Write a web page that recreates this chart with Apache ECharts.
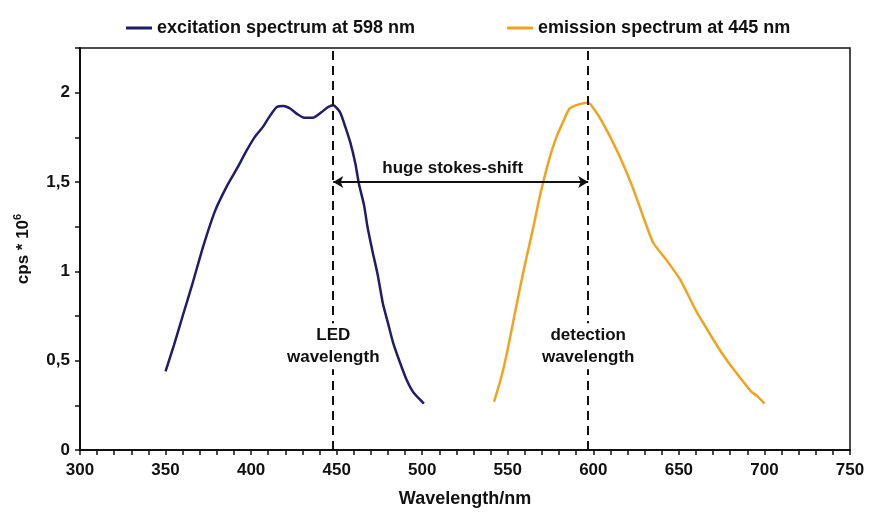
<!DOCTYPE html>
<html>
<head>
<meta charset="utf-8">
<script src="https://cdn.jsdelivr.net/npm/echarts@6/dist/echarts.min.js"></script>
<style>
  html, body { margin: 0; padding: 0; background: #fff; }
  #chart { width: 892px; height: 526px; }
</style>
</head>
<body>
<div id="chart"></div>
<script>
// wavelength (nm) / cps * 10^6
var excitationNm = [350, 355, 360, 366, 372, 379, 386, 392, 397, 402, 407, 411, 415, 419, 423, 427, 431, 436, 441, 445, 448, 452, 455, 458, 461, 463, 466, 468, 471, 474, 477, 480, 483, 487, 491, 495, 501];
var excitationVal = [0.44, 0.59, 0.75, 0.94, 1.14, 1.34, 1.48, 1.58, 1.67, 1.75, 1.81, 1.87, 1.92, 1.925, 1.91, 1.88, 1.86, 1.86, 1.89, 1.92, 1.93, 1.89, 1.81, 1.72, 1.60, 1.49, 1.37, 1.25, 1.11, 0.98, 0.82, 0.71, 0.60, 0.49, 0.39, 0.32, 0.26];

var emissionNm = [542, 546, 549, 553, 557, 561, 565, 568, 571, 574, 578, 582, 586, 590, 594, 597, 601, 605, 610, 616, 623, 629, 635, 643, 651, 660, 670, 676, 682, 687, 692, 696, 700];
var emissionVal = [0.27, 0.40, 0.52, 0.71, 0.90, 1.08, 1.25, 1.39, 1.51, 1.62, 1.74, 1.83, 1.91, 1.93, 1.94, 1.945, 1.90, 1.84, 1.75, 1.63, 1.47, 1.31, 1.16, 1.06, 0.95, 0.78, 0.62, 0.53, 0.45, 0.39, 0.33, 0.30, 0.26];

var ledNm = 448;
var detectionNm = 597;
var arrowLevel = 1.5;

var xTickLabels = [300, 350, 400, 450, 500, 550, 600, 650, 700, 750];
var yTickLabels = [0, 0.5, 1, 1.5, 2];

function pairs(xs, ys) {
  var out = [];
  for (var i = 0; i < xs.length; i++) out.push([xs[i], ys[i]]);
  return out;
}

var font = 'Liberation Sans, Arial, sans-serif';
var textBold = { fontFamily: font, fontWeight: 'bold', fontSize: 17, color: '#111' };

var myChart = echarts.init(document.getElementById('chart'));

var option = {
  animation: false,
  backgroundColor: '#fff',
  legend: {
    top: 14,
    left: 121,
    itemGap: 92,
    itemWidth: 26,
    itemHeight: 3,
    icon: 'rect',
    textStyle: { fontFamily: font, fontWeight: 'bold', fontSize: 18, color: '#111' },
    data: ['excitation spectrum at 598 nm', 'emission spectrum at 445 nm']
  },
  grid: {
    left: 80, right: 42, top: 48, bottom: 76,
    show: true,
    borderColor: '#111',
    borderWidth: 1.5
  },
  xAxis: {
    type: 'value',
    min: 300, max: 750, interval: 10,
    name: 'Wavelength/nm',
    nameLocation: 'middle',
    nameGap: 40,
    nameTextStyle: { fontFamily: font, fontWeight: 'bold', fontSize: 18, color: '#111' },
    axisLine: { onZero: false, lineStyle: { color: '#111', width: 2 } },
    axisTick: { show: true, length: 5, lineStyle: { color: '#111', width: 1.5 } },
    axisLabel: Object.assign({
      margin: 12,
      formatter: function (v) { return xTickLabels.indexOf(v) >= 0 ? String(v) : ''; }
    }, textBold),
    splitLine: { show: false }
  },
  yAxis: {
    type: 'value',
    min: 0, max: 2.25, interval: 0.25,
    name: 'cps * 10{sup|6}',
    nameLocation: 'middle',
    nameGap: 46,
    nameRotate: 90,
    nameTextStyle: {
      fontFamily: font, fontWeight: 'bold', fontSize: 17, color: '#111', lineHeight: 22,
      rich: {
        sup: { fontFamily: font, fontWeight: 'bold', fontSize: 11, color: '#111', verticalAlign: 'top', lineHeight: 22 }
      }
    },
    axisLine: { show: true, lineStyle: { color: '#111', width: 2 } },
    axisTick: { show: true, length: 5, lineStyle: { color: '#111', width: 1.5 } },
    axisLabel: Object.assign({
      margin: 10,
      formatter: function (v) {
        for (var i = 0; i < yTickLabels.length; i++) {
          if (Math.abs(yTickLabels[i] - v) < 1e-6) return String(v).replace('.', ',');
        }
        return '';
      }
    }, textBold),
    splitLine: { show: false }
  },
  series: [
    {
      name: 'excitation spectrum at 598 nm',
      type: 'line',
      data: pairs(excitationNm, excitationVal),
      showSymbol: false,
      smooth: 0.2,
      color: '#1f1d6b',
      lineStyle: { width: 2.5, color: '#1f1d6b' },
      z: 3,
      markLine: {
        silent: true,
        symbol: ['none', 'none'],
        label: { show: false },
        lineStyle: { color: '#111', width: 2, type: [9, 6] },
        data: [{ xAxis: ledNm }, { xAxis: detectionNm }]
      },
      markPoint: {
        silent: true,
        symbol: 'rect',
        symbolSize: 0,
        label: {
          show: true,
          fontFamily: font, fontWeight: 'bold', fontSize: 17, color: '#111',
          lineHeight: 22,
          backgroundColor: '#fff',
          padding: [1, 1]
        },
        data: [
          { coord: [ledNm, 0.58], label: { formatter: 'LED\nwavelength' } },
          { coord: [detectionNm, 0.58], label: { formatter: 'detection\nwavelength' } }
        ]
      }
    },
    {
      name: 'emission spectrum at 445 nm',
      type: 'line',
      data: pairs(emissionNm, emissionVal),
      showSymbol: false,
      smooth: 0.2,
      color: '#f2a31e',
      lineStyle: { width: 2.5, color: '#f2a31e' },
      z: 3,
      markLine: {
        silent: true,
        symbol: ['arrow', 'arrow'],
        symbolSize: [9, 10],
        lineStyle: { color: '#111', width: 2, type: 'solid' },
        label: {
          show: true,
          position: 'middle',
          formatter: 'huge stokes-shift',
          fontFamily: font, fontWeight: 'bold', fontSize: 17, color: '#111',
          distance: 5,
          offset: [-8, 0]
        },
        data: [[{ coord: [ledNm, arrowLevel] }, { coord: [detectionNm, arrowLevel] }]]
      }
    }
  ]
};

myChart.setOption(option);
</script>
</body>
</html>
